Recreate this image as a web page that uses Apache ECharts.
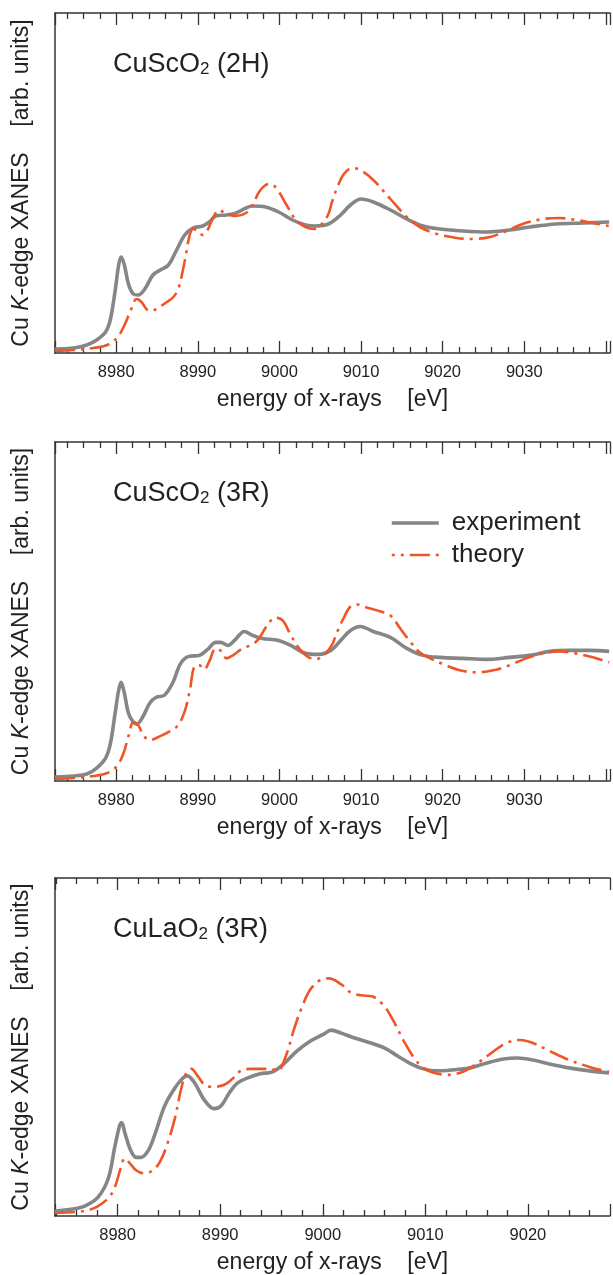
<!DOCTYPE html>
<html><head><meta charset="utf-8">
<script src="https://cdn.jsdelivr.net/npm/echarts@6/dist/echarts.min.js"></script>
<style>html,body{margin:0;padding:0;background:#fff}#c{width:613px;height:1275px}</style>
</head><body><div id="c"></div>
<script>
// ---------- data (energy in eV, intensity in arb. units) ----------
const panelNames = ['{n|CuScO}{s|2}{n| (2H)}', '{n|CuScO}{s|2}{n| (3R)}', '{n|CuLaO}{s|2}{n| (3R)}'];
const xMin = [8972.5, 8972.5, 8973.9];
const xMax = [9040.5, 9040.5, 9028.0];
const tickLabelMax = [9030, 9030, 9020];

// CuScO2 (2H)
const exp2H_E = [8972.5,8974.8,8976.4,8977.6,8978.7,8979.3,8979.9,8980.3,8980.6,8981.0,8981.5,8982.1,8982.7,8983.5,8984.5,8985.4,8986.4,8987.4,8988.4,8989.4,8990.6,8991.4,8992.2,8993.5,8994.7,8995.9,8996.7,8998.3,8999.9,9001.6,9003.2,9004.4,9006.0,9007.5,9008.7,9010.0,9011.5,9013.6,9015.6,9017.6,9019.7,9022.5,9025.4,9028.2,9030.7,9033.9,9037.2,9040.4];
const exp2H_I = [0.04,0.05,0.08,0.13,0.21,0.34,0.64,0.88,0.96,0.88,0.69,0.59,0.58,0.64,0.78,0.83,0.88,1.03,1.18,1.25,1.27,1.31,1.37,1.38,1.40,1.45,1.47,1.46,1.41,1.33,1.28,1.27,1.29,1.38,1.48,1.54,1.51,1.43,1.34,1.27,1.24,1.22,1.21,1.23,1.26,1.29,1.30,1.31];
const th2H_E = [8972.5,8974.8,8977.2,8978.9,8980.1,8980.9,8981.7,8982.5,8983.1,8983.7,8984.3,8984.9,8986.2,8987.0,8987.6,8988.2,8988.6,8989.0,8989.4,8990.0,8990.6,8991.2,8991.8,8992.6,8993.5,8994.7,8995.9,8996.7,8997.5,8998.3,8998.9,8999.7,9000.8,9002.0,9003.2,9004.2,9005.2,9006.0,9006.4,9007.1,9007.9,9008.9,9009.9,9011.5,9013.6,9015.6,9017.2,9019.3,9021.7,9023.7,9025.8,9027.8,9029.8,9032.3,9034.3,9036.4,9038.4,9040.4];
const th2H_I = [0.02,0.03,0.05,0.08,0.15,0.26,0.41,0.54,0.51,0.44,0.42,0.44,0.51,0.56,0.64,0.84,1.01,1.18,1.24,1.22,1.18,1.23,1.34,1.43,1.39,1.37,1.40,1.48,1.61,1.68,1.69,1.64,1.49,1.33,1.26,1.24,1.29,1.39,1.50,1.66,1.79,1.85,1.83,1.73,1.54,1.36,1.26,1.19,1.15,1.14,1.16,1.22,1.29,1.34,1.35,1.33,1.30,1.27];

// CuScO2 (3R)
const exp3R_E = [8972.5,8974.8,8976.4,8977.6,8978.7,8979.3,8979.9,8980.3,8980.6,8981.0,8981.5,8982.1,8982.5,8983.3,8984.1,8984.9,8985.9,8986.9,8987.9,8988.9,8990.2,8991.2,8992.2,8992.8,8993.7,8994.5,8995.7,8996.7,8997.9,8999.9,9001.6,9003.2,9004.8,9006.3,9007.5,9008.7,9009.9,9011.5,9013.6,9015.6,9017.6,9019.7,9022.5,9025.4,9028.2,9030.7,9033.1,9035.5,9038.0,9040.4];
const exp3R_I = [0.04,0.05,0.07,0.13,0.23,0.38,0.70,0.91,0.99,0.88,0.68,0.59,0.57,0.65,0.78,0.84,0.86,0.98,1.18,1.25,1.26,1.32,1.39,1.39,1.36,1.41,1.50,1.46,1.43,1.41,1.35,1.28,1.27,1.31,1.41,1.51,1.55,1.50,1.44,1.33,1.26,1.24,1.23,1.22,1.24,1.26,1.30,1.31,1.31,1.30];
const th3R_E = [8972.5,8974.8,8977.2,8978.9,8980.1,8980.9,8981.5,8982.1,8982.7,8983.3,8984.1,8985.4,8986.6,8987.6,8988.4,8989.0,8989.6,8990.2,8990.8,8991.4,8992.2,8992.9,8993.5,8994.3,8995.5,8996.7,8997.5,8998.5,8999.5,9000.4,9001.4,9002.4,9003.4,9004.4,9005.4,9006.4,9007.1,9007.9,9008.7,9009.5,9010.7,9012.4,9013.6,9014.8,9016.0,9017.2,9018.5,9020.1,9022.1,9024.2,9026.2,9028.2,9030.2,9032.3,9034.3,9036.3,9038.4,9040.4];
const th3R_I = [0.02,0.03,0.05,0.08,0.15,0.28,0.45,0.59,0.56,0.46,0.41,0.45,0.50,0.56,0.70,0.90,1.15,1.16,1.12,1.20,1.33,1.30,1.23,1.26,1.33,1.37,1.43,1.56,1.64,1.61,1.46,1.33,1.25,1.22,1.26,1.36,1.50,1.64,1.75,1.77,1.74,1.70,1.66,1.53,1.40,1.29,1.23,1.17,1.11,1.09,1.11,1.16,1.23,1.28,1.30,1.28,1.24,1.19];

// CuLaO2 (3R)
const expLa_E = [8973.9,8975.6,8976.8,8978.1,8979.1,8979.7,8980.2,8980.4,8980.7,8981.2,8981.8,8982.3,8983.0,8983.6,8984.6,8985.6,8986.4,8986.8,8987.5,8988.5,8989.4,8990.1,8990.9,8991.7,8992.7,8993.9,8995.1,8996.2,8997.5,8998.8,9000.1,9000.8,9001.8,9003.1,9004.7,9006.0,9007.3,9008.6,9009.8,9011.1,9012.7,9014.4,9016.0,9017.6,9019.0,9020.5,9022.1,9024.0,9026.0,9027.9];
const expLa_I = [0.05,0.07,0.10,0.19,0.38,0.68,0.91,0.94,0.84,0.68,0.59,0.59,0.66,0.81,1.11,1.29,1.39,1.41,1.34,1.16,1.08,1.11,1.24,1.34,1.39,1.43,1.45,1.53,1.66,1.76,1.83,1.87,1.84,1.79,1.74,1.69,1.61,1.53,1.48,1.46,1.47,1.49,1.54,1.58,1.59,1.57,1.53,1.49,1.46,1.44];
const thLa_E = [8973.9,8975.9,8977.2,8978.1,8979.1,8979.7,8980.3,8980.7,8981.2,8981.8,8982.5,8983.3,8984.1,8984.9,8985.6,8986.2,8986.7,8987.2,8987.8,8988.6,8989.4,8990.4,8991.2,8992.0,8993.0,8993.9,8994.9,8995.6,8996.4,8997.2,8998.0,8998.8,8999.7,9000.6,9001.8,9002.7,9003.7,9004.8,9006.0,9006.9,9007.9,9008.9,9009.8,9010.8,9012.1,9013.4,9014.7,9016.3,9017.9,9019.2,9020.5,9022.1,9024.0,9026.0,9027.9];
const thLa_I = [0.03,0.04,0.06,0.10,0.18,0.28,0.48,0.58,0.53,0.46,0.43,0.45,0.54,0.74,0.99,1.28,1.44,1.48,1.41,1.31,1.30,1.32,1.38,1.46,1.48,1.48,1.48,1.46,1.61,1.88,2.11,2.28,2.37,2.39,2.33,2.25,2.22,2.21,2.11,1.96,1.76,1.59,1.49,1.44,1.42,1.44,1.51,1.63,1.74,1.77,1.74,1.66,1.57,1.50,1.45];

const seriesData = [
  [exp2H_E, exp2H_I, th2H_E, th2H_I],
  [exp3R_E, exp3R_I, th3R_E, th3R_I],
  [expLa_E, expLa_I, thLa_E, thLa_I]
];

// ---------- styling / layout ----------
const FONT = '"Liberation Sans", Arial, Helvetica, sans-serif';
const AX = '#333333';
const TXT = '#222222';
const GRAY = '#868686';
const ORANGE = '#ef5526';
const EXP_W = 3.6, TH_W = 2.6, TH_DASH = [20, 6, 3, 6];
const gridTops = [13, 442, 878];
const gridH = [340, 339, 340];

const pair = (xs, ys) => xs.map((x, i) => [x, ys[i]]);

const grids = [], xAxes = [], yAxes = [], series = [], titles = [];
for (let g = 0; g < 3; g++) {
  grids.push({left: 55, top: gridTops[g], height: gridH[g], right: 0, containLabel: false});
  const common = {
    gridIndex: g, type: 'value', min: xMin[g], max: xMax[g],
    axisLine: {show: true, onZero: false, lineStyle: {color: AX, width: 1.5}},
    axisTick: {show: true, inside: true, length: 12, lineStyle: {color: AX, width: 1.3}},
    minorTick: {show: true, splitNumber: 5, length: 6, lineStyle: {color: AX, width: 1.3}},
    splitLine: {show: false}, minorSplitLine: {show: false}
  };
  const lblMax = tickLabelMax[g];
  xAxes.push(Object.assign({}, common, {
    position: 'bottom',
    axisLabel: {show: true, margin: 11, fontSize: 16.5, color: TXT, fontFamily: FONT,
      formatter: v => (Math.abs(v - Math.round(v / 10) * 10) < 1e-6 && v <= lblMax + 1e-6 ? String(Math.round(v)) : '')},
    name: 'energy of x-rays    [eV]', nameLocation: 'middle', nameGap: 35,
    nameTextStyle: {fontSize: 23, color: TXT, fontFamily: FONT}
  }));
  xAxes.push(Object.assign({}, common, {position: 'top', axisLabel: {show: false}}));
  yAxes.push({
    gridIndex: g, type: 'value', min: 0, max: 3.4,
    axisLine: {show: true, lineStyle: {color: AX, width: 1.5}},
    axisTick: {show: false}, axisLabel: {show: false}, splitLine: {show: false},
    name: '{a|Cu }{k|K}{a|-edge XANES    [arb. units]}',
    nameLocation: 'middle', nameRotate: 90, nameGap: 22,
    nameTextStyle: {rich: {
      a: {fontSize: 23, color: TXT, fontFamily: FONT},
      k: {fontSize: 23, color: TXT, fontFamily: FONT, fontStyle: 'italic'}
    }}
  });
  const d = seriesData[g];
  series.push({
    type: 'line', name: 'experiment', xAxisIndex: 2 * g, yAxisIndex: g,
    data: pair(d[0], d[1]), symbol: 'none', smooth: 0.35, z: 2,
    lineStyle: {color: GRAY, width: EXP_W}, itemStyle: {color: GRAY}
  });
  series.push({
    type: 'line', name: 'theory', xAxisIndex: 2 * g, yAxisIndex: g,
    data: pair(d[2], d[3]), symbol: 'none', smooth: 0.35, z: 3,
    lineStyle: {color: ORANGE, width: TH_W, type: TH_DASH}, itemStyle: {color: ORANGE}
  });
  titles.push({
    text: panelNames[g], left: 113, top: gridTops[g] + 37, padding: 0,
    textStyle: {fontWeight: 'normal', rich: {
      n: {fontSize: 27, lineHeight: 28, color: TXT, fontFamily: FONT, fontWeight: 'normal', verticalAlign: 'bottom'},
      s: {fontSize: 17, lineHeight: 14, color: TXT, fontFamily: FONT, fontWeight: 'normal', verticalAlign: 'bottom'}
    }}
  });
}

const chart = echarts.init(document.getElementById('c'), null, {renderer: 'canvas'});
chart.setOption({
  animation: false,
  backgroundColor: '#ffffff',
  textStyle: {fontFamily: FONT},
  title: titles,
  legend: {
    data: [
      {name: 'experiment', lineStyle: {width: EXP_W, color: GRAY, type: 'solid'}},
      {name: 'theory', lineStyle: {width: TH_W, color: ORANGE, type: TH_DASH, dashOffset: 17}}
    ],
    orient: 'vertical', left: 390, top: 510, padding: 0,
    itemWidth: 47, itemHeight: 12, itemGap: 6,
    itemStyle: {opacity: 0, borderWidth: 0},
    textStyle: {fontSize: 26, color: TXT, fontFamily: FONT, padding: [0, 0, 0, 8]}
  },
  grid: grids, xAxis: xAxes, yAxis: yAxes, series: series
});
</script></body></html>
